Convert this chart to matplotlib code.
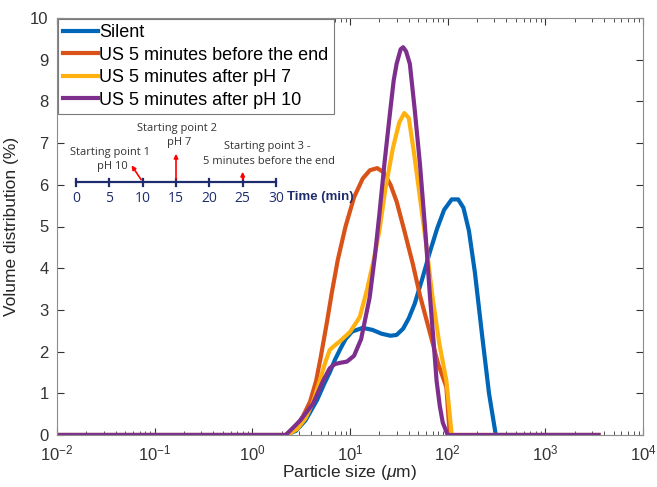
import matplotlib
matplotlib.use("Agg")
import matplotlib.pyplot as plt

plt.rcParams["font.family"] = ["Liberation Sans", "DejaVu Sans"]
plt.rcParams["mathtext.fontset"] = "custom"
plt.rcParams["mathtext.rm"] = "Liberation Sans"
plt.rcParams["mathtext.it"] = "Liberation Sans:italic"

# %% data
silent_x = [0.01, 2.2, 2.8, 3.5, 4.6, 5.5, 6.2, 7.0, 7.9, 9.0, 10.5, 13.5, 17, 21, 26, 30,
            35, 40, 46, 55, 65, 78, 92, 110, 128, 145, 165, 190, 225, 265, 311, 3500]
silent_y = [0, 0, 0.1, 0.35, 0.84, 1.25, 1.5, 1.8, 2.05, 2.3, 2.48, 2.57, 2.52, 2.43, 2.38, 2.4,
            2.55, 2.8, 3.15, 3.75, 4.35, 4.95, 5.4, 5.65, 5.65, 5.45, 4.9, 3.9, 2.4, 1.0, 0, 0]

before_end_x = [0.01, 2.2, 2.8, 3.3, 3.9, 4.5, 5.0, 5.8, 6.5, 7.5, 9.0, 11, 13.5, 16, 19,
                22, 26, 30, 36, 44, 52, 65, 80, 97, 105, 3500]
before_end_y = [0, 0, 0.2, 0.45, 0.8, 1.3, 1.85, 2.7, 3.4, 4.2, 5.0, 5.7, 6.15, 6.35, 6.4,
                6.3, 6.0, 5.6, 4.9, 4.1, 3.35, 2.5, 1.7, 1.15, 0, 0]

after_ph7_x = [0.01, 2.3, 2.9, 3.5, 4.2, 4.9, 5.6, 6.2, 7.0, 7.9, 10, 12.6, 15, 17.5, 20,
               23, 27.6, 32, 36, 40, 45, 52, 60, 70, 82, 97, 110, 3500]
after_ph7_y = [0, 0, 0.15, 0.4, 0.8, 1.3, 1.75, 2.04, 2.15, 2.25, 2.47, 2.83, 3.5, 4.2, 4.9,
               5.9, 6.9, 7.5, 7.72, 7.6, 6.8, 5.7, 4.6, 3.3, 2.2, 1.3, 0, 0]

after_ph10_x = [0.01, 2.2, 3.1, 4.2, 5.3, 6.2, 7.0, 7.9, 9.3, 11, 13, 15.9, 18, 20, 22.5,
                25.6, 28, 30, 33, 35, 37.5, 41, 46, 52, 59, 66, 72, 77, 83, 89, 100, 3500]
after_ph10_y = [0, 0, 0.35, 0.76, 1.3, 1.6, 1.7, 1.73, 1.76, 1.9, 2.3, 3.3, 4.3, 5.3, 6.5,
                7.7, 8.5, 8.9, 9.25, 9.3, 9.2, 8.9, 7.8, 6.5, 4.9, 3.3, 2.2, 1.3, 0.7, 0.3, 0, 0]

labels = ["Silent", "US 5 minutes before the end", "US 5 minutes after pH 7",
          "US 5 minutes after pH 10"]
colors = ["#0066B8", "#D95319", "#FFB10F", "#7E2F8E"]

timeline_ticks = [0, 5, 10, 15, 20, 25, 30]

# %% main plot
fig = plt.figure(figsize=(6.57, 4.87), dpi=100)
ax = fig.add_axes([57 / 657, 1 - 435 / 487, 586 / 657, 417 / 487])

series = [(silent_x, silent_y), (before_end_x, before_end_y),
          (after_ph7_x, after_ph7_y), (after_ph10_x, after_ph10_y)]
for (xs, ys), lab, col in zip(series, labels, colors):
    ax.plot(xs, ys, color=col, lw=3.0, label=lab, solid_joinstyle="round")

ax.set_xscale("log")
ax.set_xlim(1e-2, 1e4)
ax.set_ylim(0, 10)
ax.set_yticks(range(0, 11))
ax.set_xticks([1e-2, 1e-1, 1e0, 1e1, 1e2, 1e3, 1e4])
ax.tick_params(which="both", direction="in", top=True, right=True, colors="#333333",
               labelsize=12)
ax.tick_params(axis="x", which="major", pad=6)
ax.tick_params(axis="y", which="major", pad=6)
ax.tick_params(which="major", length=5)
ax.tick_params(which="minor", length=3)
for sp in ax.spines.values():
    sp.set_color("#8c8c8c")
    sp.set_linewidth(0.8)
ax.set_xlabel(r"Particle size ($\mu$m)", fontsize=12.5, color="#262626", labelpad=0)
ax.set_ylabel("Volume distribution (%)", fontsize=12.5, color="#262626", labelpad=8)

leg = ax.legend(loc="upper left", bbox_to_anchor=(0, 1), borderaxespad=0.05,
                fontsize=13, handlelength=1.9, handletextpad=0.1, labelspacing=0.3,
                borderpad=0.3, fancybox=False, framealpha=1)
leg.get_frame().set_edgecolor("#7a7a7a")
leg.get_frame().set_linewidth(0.8)

# %% inset timeline (y in image pixels)
navy = "#1F2C6E"
ins = fig.add_axes([76 / 657, 1 - 205 / 487, 200 / 657, 85 / 487])
ins.set_xlim(0, 30)
ins.set_ylim(205, 120)
ins.axis("off")
ins.plot([0, 30], [182, 182], color=navy, lw=1.6, clip_on=False)
for t in timeline_ticks:
    ins.plot([t, t], [178.5, 185.5], color=navy, lw=1.6, clip_on=False)
    ins.text(t, 198, str(t), ha="center", va="center", fontsize=10, color=navy,
             family=["Open Sans", "DejaVu Sans"])
ins.text(31.6, 197, "Time (min)", ha="left", va="center", fontsize=9.5, color=navy,
         fontweight="bold", clip_on=False)

inset_font = ["Open Sans", "DejaVu Sans"]
ins.text(5.1, 153, "Starting point 1", ha="center", va="center", fontsize=8, color="#333333", family=inset_font)
ins.text(5.4, 166, "pH 10", ha="center", va="center", fontsize=8, color="#333333", family=inset_font)
ins.text(15.15, 128, "Starting point 2", ha="center", va="center", fontsize=8, color="#333333", family=inset_font)
ins.text(15.45, 143, "pH 7", ha="center", va="center", fontsize=8, color="#333333", family=inset_font)
ins.text(28.65, 147, "Starting point 3 -", ha="center", va="center", fontsize=8, color="#333333", family=inset_font)
ins.text(28.95, 162, "5 minutes before the end", ha="center", va="center", fontsize=8, color="#333333", family=inset_font)

arrow = dict(arrowstyle="-|>", color="red", lw=1.2, mutation_scale=6)
ins.annotate("", xy=(8.1, 163), xytext=(10, 182), arrowprops=arrow)
ins.annotate("", xy=(15, 151), xytext=(15, 182), arrowprops=arrow)
ins.annotate("", xy=(25, 169), xytext=(25, 182), arrowprops=arrow)

fig.savefig("out.png", dpi=100)
